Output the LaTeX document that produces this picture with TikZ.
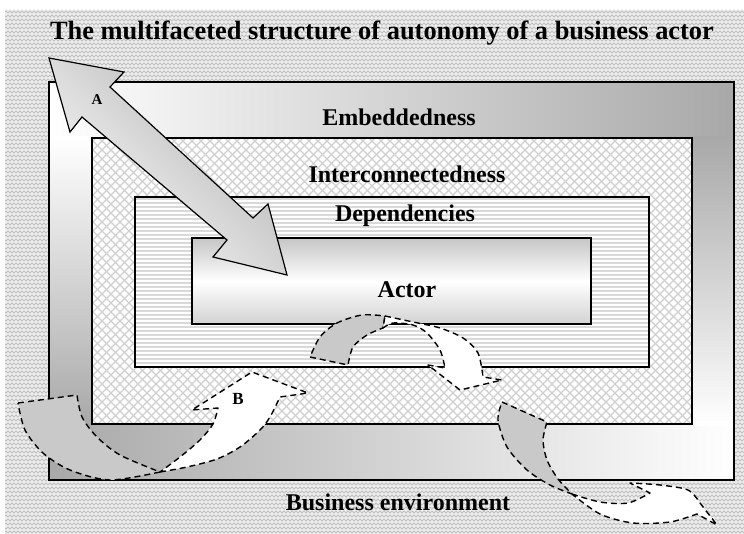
\documentclass[tikz,border=0pt]{standalone}
\usepackage{fontspec}
\setmainfont{Liberation Serif}
\usetikzlibrary{patterns, positioning}

% zigzag texture of the business environment
\pgfdeclarepatternformonly{zigzag}{\pgfqpoint{-1pt}{-1pt}}{\pgfqpoint{9pt}{9pt}}{\pgfqpoint{8pt}{8pt}}{%
  \pgfsetlinewidth{0.8pt}
  \pgfpathmoveto{\pgfqpoint{0pt}{1pt}}
  \pgfpathlineto{\pgfqpoint{2pt}{3pt}}
  \pgfpathlineto{\pgfqpoint{4pt}{1pt}}
  \pgfpathlineto{\pgfqpoint{6pt}{3pt}}
  \pgfpathlineto{\pgfqpoint{8pt}{1pt}}
  \pgfpathmoveto{\pgfqpoint{0pt}{7pt}}
  \pgfpathlineto{\pgfqpoint{2pt}{5pt}}
  \pgfpathlineto{\pgfqpoint{4pt}{7pt}}
  \pgfpathlineto{\pgfqpoint{6pt}{5pt}}
  \pgfpathlineto{\pgfqpoint{8pt}{7pt}}
  \pgfusepath{stroke}}

\tikzset{layer/.style={draw=black,line width=1.3pt},
  band/.style={font=\bfseries\fontsize{24}{28}\selectfont,inner sep=0pt},
  hatch/.style={gray!38,line width=1.1pt},
  twist/.style={draw=black,line width=1.4pt,dash pattern=on 6pt off 4pt,line join=round},
  back/.style={twist,fill=gray!42},
  front/.style={twist,fill=white}}

\begin{document}
\begin{tikzpicture}[x=1pt, y=-1pt]
    \useasboundingbox (0,0) rectangle (744,534);
    % business environment
    \fill[gray!14] (5,10) rectangle (744,534);
    \fill[pattern=zigzag, pattern color=gray!50] (5,10) rectangle (744,534);

    % embeddedness frame, shaded band by band
    \shade[left color=white, right color=gray!68] (49,82) rectangle (734,138);
    \shade[left color=gray!68, right color=white] (49,424) rectangle (734,480);
    \shade[top color=white, bottom color=gray!68] (49,137) rectangle (92,425);
    \shade[top color=gray!68, bottom color=white] (692,137) rectangle (734,425);
    \draw[layer] (49,82) rectangle (734,480);

    % interconnectedness
    \fill[white] (92,138) rectangle (692,424);
    \begin{scope}
      \clip (92,138) rectangle (692,424);
      \foreach \c in {-336,-327,...,560}
        \draw[hatch] ({\c+130},130) -- ({\c+430},430);
      \foreach \c in {225,234,...,1125}
        \draw[hatch] ({\c-130},130) -- ({\c-430},430);
    \end{scope}
    \draw[layer] (92,138) rectangle (692,424);

    % dependencies
    \fill[white] (135,197) rectangle (649,367);
    \foreach \y in {199,203,...,365}
      \draw[gray!30, line width=1.7pt] (135,\y) -- (649,\y);
    \draw[layer] (135,197) rectangle (649,367);

    % actor
    \shadedraw[layer, top color=gray!45, bottom color=gray!35, middle color=white]
      (192,238) rectangle (591,324);

    \node[font=\bfseries\fontsize{26.4}{30}\selectfont, inner sep=0pt] (title) at (382,33)
      {The multifaceted structure of autonomy of a business actor};
    \node[band] (embed) at (399,117) {Embeddedness};
    \node[band] (inter) at (407,174) {Interconnectedness};
    \node[band] (depend) at (405,216) {Dependencies};
    \node[band] (actor) at (407,290) {Actor};
    \node[band] (env) at (398,502) {Business environment};

    % A
    \shadedraw[line width=1.2pt, line join=miter, top color=gray!62, bottom color=white, shading angle=-45]
      (49,58) -- (124,72) -- (110,87) -- (253,218) -- (268,204) -- (287,275)
      -- (213,257) -- (227,240) -- (82,117) -- (70,132) -- cycle;
    \node[font=\bfseries\fontsize{15}{18}\selectfont, inner sep=0pt] (markA) at (97,100) {A};

    % B
    \path[back] (18,403) -- (77,395)
      -- plot[smooth] coordinates {(77,395) (82,417) (97,437) (120,455) (160,472)}
      -- plot[smooth] coordinates {(160,472) (110,480) (70,470) (43,453) (25,430) (18,403)} -- cycle;
    \path[front] (160,472)
      -- plot[smooth] coordinates {(160,472) (187,467) (217,459) (240,447) (260,430) (270,417) (280,397)}
      -- (308,393) -- (252,372) -- (192,410) -- (218,408)
      -- plot[smooth] coordinates {(218,408) (213,424) (200,440) (180,457) (160,472)} -- cycle;
    \node[font=\bfseries\fontsize{17}{20}\selectfont, inner sep=0pt] (markB) at (238,399) {B};

    % twist under the actor
    \path[back] (310,357) -- (348,365)
      -- plot[smooth] coordinates {(348,365) (353,347) (367,335) (383,328)}
      -- (385,316)
      -- plot[smooth] coordinates {(385,316) (362,315) (337,323) (320,337) (310,357)} -- cycle;
    \path[front] (385,316)
      -- plot[smooth] coordinates {(385,316) (413,322) (440,328) (463,338) (478,353) (483,377)}
      -- (502,380) -- (460,390) -- (428,365) -- (445,368)
      -- plot[smooth] coordinates {(445,368) (440,350) (427,333) (413,325) (393,323) (383,328)} -- cycle;

    % twist out of the frame
    \path[back] (502,402) -- (547,422)
      -- plot[smooth] coordinates {(547,422) (543,440) (547,460) (558,479) (572,494)}
      -- plot[smooth] coordinates {(572,494) (550,485) (527,470) (507,447) (498,420) (502,402)} -- cycle;
    \path[front] (572,494)
      -- plot[smooth] coordinates {(572,494) (600,502) (628,503) (650,493)}
      -- (630,483)
      -- plot[smooth] coordinates {(630,483) (660,485) (688,490) (700,503)}
      -- (717,525) -- (697,514)
      -- plot[smooth] coordinates {(697,514) (670,522) (633,523) (600,514) (572,494)} -- cycle;
\end{tikzpicture}
\end{document}
